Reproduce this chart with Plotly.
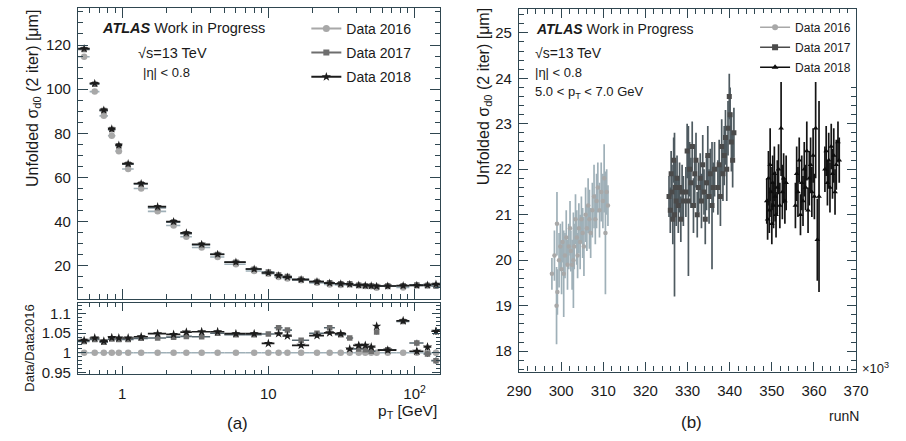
import plotly.graph_objects as go

# ---------------- panel (a): sigma_d0 vs pT ----------------
pt_edges = [0.5, 0.6, 0.7, 0.8, 0.9, 1.0, 1.2, 1.5, 2.0, 2.5, 3.0, 4.0, 5.0, 7.0, 9.0,
            11, 12.5, 14.5, 19, 24, 28.5, 34, 38, 45, 47, 54, 56, 75, 92, 115, 130, 150]
sigma_2016 = [114.7, 98.9, 87.9, 78.9, 71.9, 63.8, 55.0, 44.6, 38.2, 33.1, 28.2, 23.9,
              20.6, 17.6, 16.3, 14.8, 14.2, 13.4, 12.2, 11.5, 11.25, 11.4, 11.0, 10.8,
              10.7, 10.0, 10.7, 10.1, 11.0, 11.0, 11.0]
ratio_2017 = [1.029, 1.034, 1.027, 1.035, 1.034, 1.034, 1.037, 1.038, 1.040, 1.042, 1.041,
              1.050, 1.046, 1.046, 1.048, 1.064, 1.058, 1.032, 1.050, 1.064, 1.046, 1.038,
              1.010, 1.008, 1.004, 1.053, 1.008, 1.080, 1.025, 0.997, 0.980]
ratio_2018 = [1.032, 1.038, 1.030, 1.039, 1.038, 1.038, 1.041, 1.049, 1.047, 1.053, 1.054,
              1.054, 1.049, 1.049, 1.024, 1.049, 1.043, 1.019, 1.044, 1.051, 1.049, 1.010,
              1.019, 1.019, 1.015, 1.068, 1.007, 1.082, 1.004, 1.015, 1.055]
rel_err = [0.002, 0.002, 0.002, 0.002, 0.002, 0.002, 0.002, 0.002, 0.002, 0.002, 0.002,
           0.002, 0.002, 0.002, 0.003, 0.004, 0.004, 0.004, 0.004, 0.004, 0.005, 0.005,
           0.005, 0.005, 0.005, 0.006, 0.006, 0.006, 0.008, 0.008, 0.009]

# ---------------- panel (b): sigma_d0 vs run number (x10^3) ----------------
run_2016 = [297.8, 298.4, 298.9, 299.0, 299.1, 299.5, 299.8, 300.1, 300.3, 300.6, 300.9,
            301.2, 301.5, 301.8, 302.1, 302.3, 302.6, 302.9, 303.1, 303.4, 303.7, 303.9,
            304.2, 304.5, 304.8, 305.1, 305.4, 305.8, 306.1, 306.4, 306.7, 307.0, 307.4,
            307.8, 308.1, 308.4, 308.7, 309.1, 309.5, 309.9, 310.2, 310.5, 310.8, 311.1]
val_2016 = [19.7, 20.1, 19.0, 20.8, 19.3, 20.0, 20.3, 19.8, 20.4, 19.7, 20.1, 20.5, 19.9,
            20.3, 20.7, 20.2, 19.9, 20.0, 20.3, 20.9, 20.5, 20.1, 20.7, 20.4, 20.9, 20.6,
            20.3, 21.0, 20.7, 21.2, 20.9, 20.6, 21.1, 21.4, 20.9, 21.3, 21.6, 21.1, 21.5,
            21.3, 21.8, 20.6, 21.5, 21.2]
err_2016 = [0.35, 0.55, 0.85, 0.7, 0.5, 0.6, 0.5, 0.55, 0.45, 0.95, 0.5, 0.6, 0.55, 0.5,
            0.6, 0.45, 0.55, 1.05, 0.5, 0.55, 0.6, 0.5, 0.55, 0.6, 0.5, 0.55, 0.65, 0.6,
            0.5, 0.6, 0.65, 0.55, 0.6, 0.7, 0.55, 0.6, 0.55, 0.6, 0.65, 0.6, 0.75, 1.35,
            0.5, 0.45]

run_2017 = [325.6, 325.9, 326.1, 326.3, 326.5, 326.7, 326.9, 327.1, 327.3, 327.5, 327.8,
            328.1, 328.4, 328.7, 329.0,
            329.6, 329.9, 330.2, 330.5, 330.8, 331.1, 331.4, 331.7, 332.0, 332.3, 332.6,
            333.0, 333.3, 333.6, 333.9, 334.2, 334.5, 334.8, 335.1, 335.4, 335.8, 336.1, 336.4,
            337.2, 337.5, 337.8, 338.1, 338.4, 338.7, 339.0, 339.3, 339.6, 339.9, 340.1,
            340.4, 340.7, 341.0]
val_2017 = [21.4, 21.1, 21.9, 21.5, 20.9, 22.2, 21.0, 21.6, 21.3, 21.8, 21.2, 21.6, 20.9,
            21.5, 21.3,
            21.5, 22.4, 21.3, 22.0, 21.7, 22.5, 21.2, 21.9, 22.2, 21.0, 21.6,
            21.8, 21.3, 22.1, 21.5, 20.9, 21.7, 22.3, 21.4, 21.9, 21.2, 21.6, 22.0,
            21.6, 22.1, 21.4, 22.5, 21.9, 22.3, 22.7, 22.0, 22.9, 23.6, 23.2, 22.6, 22.2, 22.8]
err_2017 = [0.45, 0.5, 0.5, 0.6, 0.55, 0.5, 1.8, 0.6, 0.55, 0.5, 0.6, 0.55, 0.5, 0.6, 0.55,
            0.55, 0.6, 1.65, 0.6, 0.55, 0.55, 0.6, 0.65, 0.6, 0.5, 0.55,
            0.55, 0.6, 0.65, 0.5, 0.55, 0.6, 0.65, 0.6, 0.55, 1.4, 0.55, 0.6,
            0.6, 0.55, 0.65, 0.6, 0.6, 0.65, 0.6, 0.7, 0.6, 0.5, 0.6, 0.65, 0.6, 0.55]

run_2018 = [348.8, 349.0, 349.2, 349.4, 349.6, 349.8, 350.0, 350.2, 350.4, 350.6, 350.8,
            351.0, 351.3, 351.6, 351.9, 352.2, 352.5, 352.8, 353.1, 353.4,
            355.6, 355.9, 356.2, 356.5, 356.8, 357.1, 357.4, 357.7, 358.0, 358.3, 358.6,
            358.9, 359.2, 359.5, 359.8, 360.1, 360.4, 360.8, 361.2,
            362.6, 362.9, 363.2, 363.5, 363.8, 364.1, 364.4, 364.7, 365.0, 365.3, 365.7, 366.0]
val_2018 = [21.3, 20.9, 21.8, 21.1, 22.1, 21.5, 20.8, 21.7, 21.2, 21.9, 21.4, 21.0, 21.6,
            22.0, 21.2, 22.9, 21.5, 21.8, 21.3, 21.7,
            21.2, 21.9, 21.5, 22.2, 21.0, 21.7, 21.3, 22.0, 21.6, 22.4, 21.1, 21.8, 22.1,
            21.5, 22.3, 21.4, 22.9, 20.45, 21.4,
            22.0, 22.4, 21.7, 22.2, 21.6, 22.5, 21.9, 22.3, 21.5, 22.1, 22.6, 22.2]
err_2018 = [0.5, 0.45, 0.6, 0.5, 0.8, 0.55, 0.45, 0.6, 0.5, 0.6, 0.55, 0.5, 0.6, 0.55, 0.5,
            1.05, 0.6, 0.55, 0.5, 0.6,
            0.5, 0.6, 0.55, 0.5, 0.45, 0.6, 0.55, 0.6, 0.5, 0.65, 0.5, 0.6, 0.6, 0.55, 0.6,
            0.5, 1.1, 0.9, 2.1,
            0.5, 0.55, 0.5, 0.6, 0.55, 0.5, 0.55, 0.6, 0.5, 0.55, 0.45, 0.5]

legend_names = ["Data 2016", "Data 2017", "Data 2018"]

# ---------------- styling ----------------
W, H = 906, 441
FONT = "Liberation Sans, Arial, Helvetica, sans-serif"
TXT = "#1a1a1a"
AX = "#2f4650"
C16, C17, C18 = "#a8a8a8", "#6e6e6e", "#1c1c1c"
E16, E17, E18 = "#9fb0b8", "#56666e", "#1c1c1c"
SYM = ["circle", "square", "star"]


def px(x):
    return x / W


def py(y):
    return 1 - y / H


centers = [(lo + hi) / 2 for lo, hi in zip(pt_edges[:-1], pt_edges[1:])]
xplus = [hi - c for c, hi in zip(centers, pt_edges[1:])]
xminus = [c - lo for c, lo in zip(centers, pt_edges[:-1])]

sigma_2017 = [s * r for s, r in zip(sigma_2016, ratio_2017)]
sigma_2018 = [s * r for s, r in zip(sigma_2016, ratio_2018)]
ratio_2016 = [s / s for s in sigma_2016]

fig = go.Figure()

top_sets = [(sigma_2016, C16, E16, SYM[0], 6.5), (sigma_2017, C17, E17, SYM[1], 5.5),
            (sigma_2018, C18, E18, SYM[2], 6.5)]
ratio_sets = [(ratio_2016, C16, E16, SYM[0], 6.5), (ratio_2017, C17, E17, SYM[1], 5.5),
              (ratio_2018, C18, E18, SYM[2], 7)]

for vals, c, e, s, ms in top_sets:
    fig.add_trace(go.Scatter(
        x=centers, y=vals, mode="markers", xaxis="x", yaxis="y", showlegend=False,
        marker=dict(symbol=s, color=c, size=ms, line=dict(width=0)),
        error_x=dict(type="data", symmetric=False, array=xplus, arrayminus=xminus,
                     color=e, thickness=1.6, width=0),
        error_y=dict(type="data", array=[v * r for v, r in zip(vals, rel_err)],
                     color=e, thickness=1.2, width=0)))

for vals, c, e, s, ms in ratio_sets:
    fig.add_trace(go.Scatter(
        x=centers, y=vals, mode="markers", xaxis="x2", yaxis="y2", showlegend=False,
        marker=dict(symbol=s, color=c, size=ms, line=dict(width=0)),
        error_x=dict(type="data", symmetric=False, array=xplus, arrayminus=xminus,
                     color=e, thickness=1.6, width=0),
        error_y=dict(type="data", array=[v * r for v, r in zip(vals, rel_err)],
                     color=e, thickness=1.2, width=0)))

run_sets = [(run_2016, val_2016, err_2016, C16, E16, SYM[0], 4.5),
            (run_2017, val_2017, err_2017, "#4a4a4a", "#4e5a60", SYM[1], 5),
            (run_2018, val_2018, err_2018, "#0d0d0d", "#141414", "triangle-up", 5)]
for r, v, er, c, e, s, ms in run_sets:
    fig.add_trace(go.Scatter(
        x=r, y=v, mode="markers", xaxis="x3", yaxis="y3", showlegend=False,
        marker=dict(symbol=s, color=c, size=ms, line=dict(width=0)),
        error_y=dict(type="data", array=er, color=e, thickness=1.7, width=0)))

# legend entries (ROOT-like "-o-")
leg_a = [(C16, SYM[0], 7), (C17, SYM[1], 6), (C18, SYM[2], 7)]
for name, (c, s, ms) in zip(legend_names, leg_a):
    fig.add_trace(go.Scatter(x=[None], y=[None], mode="lines+markers", name=name,
                             xaxis="x", yaxis="y", legend="legend", legendgroup="a" + name,
                             marker=dict(symbol=s, color=c, size=ms),
                             line=dict(color=c, width=2)))
leg_b = [(C16, SYM[0], 6), ("#4a4a4a", SYM[1], 6), ("#0d0d0d", "triangle-up", 6)]
for name, (c, s, ms) in zip(legend_names, leg_b):
    fig.add_trace(go.Scatter(x=[None], y=[None], mode="lines+markers", name=name,
                             xaxis="x3", yaxis="y3", legend="legend2", legendgroup="b" + name,
                             marker=dict(symbol=s, color=c, size=ms),
                             line=dict(color=c, width=1.6)))

common = dict(showline=True, linecolor=AX, linewidth=1.2, mirror="allticks",
              ticks="inside", tickcolor=AX, tickwidth=1.2, showgrid=False, zeroline=False,
              tickfont=dict(family=FONT, size=15, color=TXT))

dom_ax = [px(67), px(440)]
minor_log = [0.6, 0.7, 0.8, 0.9, 2, 3, 4, 5, 6, 7, 8, 9, 20, 30, 40, 50, 60, 70, 80, 90]

fig.update_layout(
    width=W, height=H, margin=dict(l=0, r=0, t=0, b=0),
    paper_bgcolor="white", plot_bgcolor="white",
    font=dict(family=FONT, color=TXT),
    xaxis=dict(domain=dom_ax, anchor="y", type="log", range=[-0.30103, 2.17609],
               tickvals=[1, 10, 100], showticklabels=False, ticklen=10,
               minor=dict(tickvals=minor_log, ticks="inside", ticklen=5, tickcolor=AX),
               **{k: v for k, v in common.items() if k != "tickfont"}),
    yaxis=dict(domain=[py(303.3), py(8.3)], anchor="x", range=[4.8, 136.7],
               tick0=0, dtick=20, ticklen=10, ticklabelstandoff=3,
               minor=dict(dtick=5, ticks="inside", ticklen=5, tickcolor=AX), **common),
    xaxis2=dict(domain=dom_ax, anchor="y2", type="log", range=[-0.30103, 2.17609],
                tickvals=[1, 10, 100], ticktext=["1", "10", "10<sup>2</sup>"], ticklen=8,
                ticklabelstandoff=6,
                minor=dict(tickvals=minor_log, ticks="inside", ticklen=4, tickcolor=AX),
                **common),
    yaxis2=dict(domain=[py(379.3), py(307.3)], anchor="x2", range=[0.9455, 1.127],
                tickvals=[0.95, 1.0, 1.05, 1.1], ticktext=["0.95", "1", "1.05", "1.1"],
                ticklen=8, ticklabelstandoff=3,
                minor=dict(dtick=0.01, tick0=0.95, ticks="inside", ticklen=4, tickcolor=AX),
                **common),
    xaxis3=dict(domain=[px(521), px(868)], anchor="y3", range=[290, 370], tick0=290,
                dtick=10, ticklen=9, ticklabelstandoff=5,
                minor=dict(dtick=2, ticks="inside", ticklen=5, tickcolor=AX), **common),
    yaxis3=dict(domain=[py(376.7), py(9.3)], anchor="x3", range=[17.55, 25.52], tick0=18,
                dtick=1, ticklen=9, ticklabelstandoff=3,
                minor=dict(dtick=0.2, ticks="inside", ticklen=5, tickcolor=AX), **common),
    legend=dict(x=px(302), y=py(13), xanchor="left", yanchor="top",
                bgcolor="rgba(255,255,255,0)", font=dict(family=FONT, size=14, color=TXT),
                traceorder="grouped", tracegroupgap=3, itemwidth=30),
    legend2=dict(x=px(764), y=py(13), xanchor="left", yanchor="top",
                 bgcolor="white", font=dict(family=FONT, size=12, color=TXT),
                 traceorder="grouped", tracegroupgap=1, itemwidth=30),
)

ann = []


def add_text(text, x, y, size, xanchor="left", angle=0, yanchor="middle"):
    ann.append(dict(text=text, x=px(x), y=py(y), xref="paper", yref="paper",
                    xanchor=xanchor, yanchor=yanchor, showarrow=False, textangle=angle,
                    font=dict(family=FONT, size=size, color=TXT)))


ytitle = "Unfolded σ<sub>d0</sub> (2 iter) [μm]"
add_text(ytitle, 21, 100, 16, xanchor="center", angle=-90)
add_text("Data/Data2016", 17.5, 352.5, 13, xanchor="center", angle=-90)
add_text("<b><i>ATLAS</i></b> Work in Progress", 90, 28.5, 14.5)
add_text("√s=13 TeV", 127, 53.3, 14.5)
add_text("|η| &lt; 0.8", 132, 74, 13)
add_text("p<sub>T</sub> [GeV]", 439, 417, 15.5, xanchor="right")
add_text("(a)", 231, 429, 17, xanchor="center")

add_text(ytitle, 485, 98.5, 16, xanchor="center", angle=-90)
add_text("<b><i>ATLAS</i></b> Work in Progress", 536, 29.3, 14)
add_text("√s=13 TeV", 535, 53.3, 14)
add_text("|η| &lt; 0.8", 535, 74, 13)
add_text("5.0 &lt; p<sub>T</sub> &lt; 7.0 GeV", 535, 94, 13)
add_text("×10<sup>3</sup>", 872, 373, 13)
add_text("runN", 873, 422, 14, xanchor="right")
add_text("(b)", 698.5, 428.5, 17, xanchor="center")

fig.update_layout(annotations=ann)
fig.write_html("out.html", config={"displayModeBar": False},
               post_script="document.body.style.margin='0';document.body.style.overflow='hidden';")
